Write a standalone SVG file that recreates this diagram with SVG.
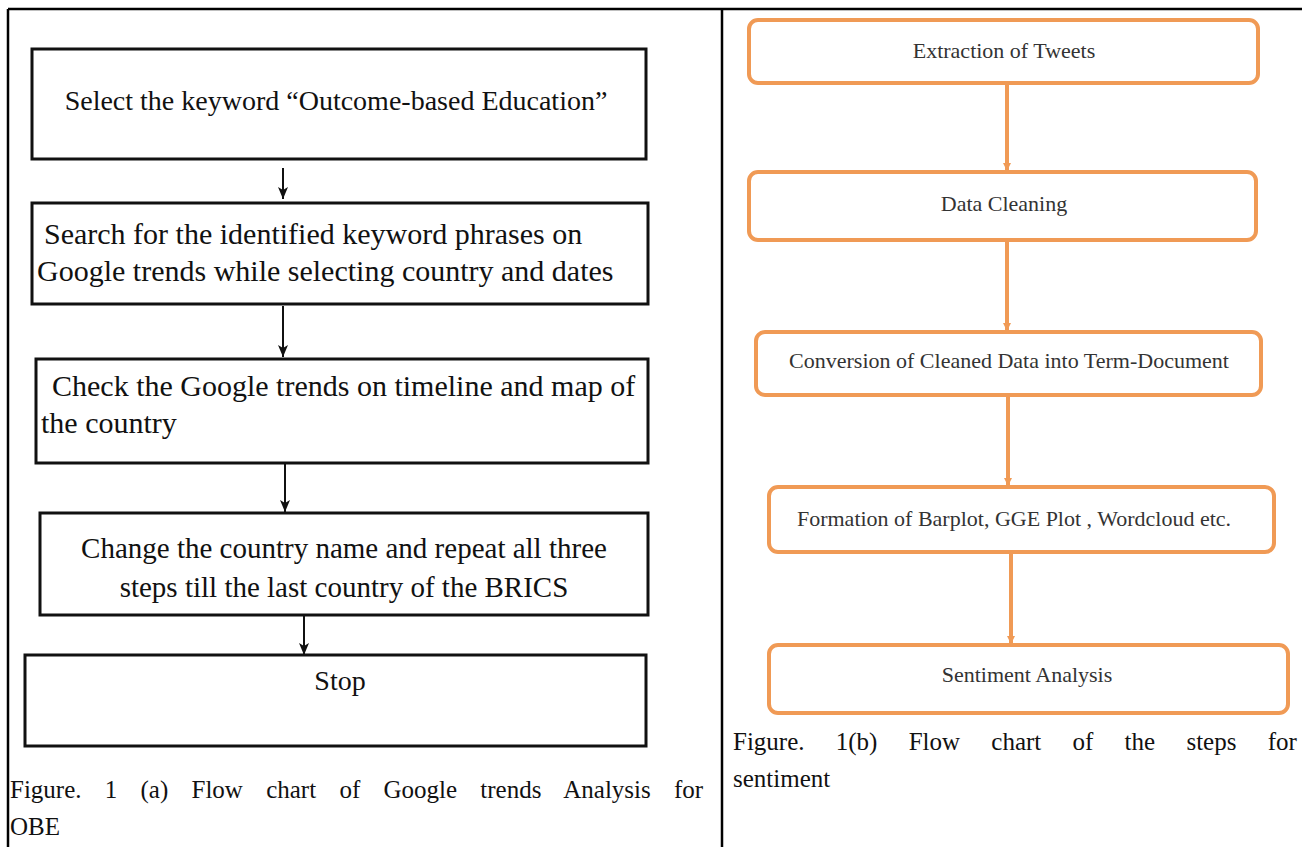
<svg xmlns="http://www.w3.org/2000/svg" width="1302" height="847" viewBox="0 0 1302 847">
<defs>
<style>
.frame{stroke:#000;stroke-width:2.5;fill:none}
.bbox{fill:#fff;stroke:#111;stroke-width:3}
.obox{fill:#fff;stroke:#f09a55;stroke-width:4}
.lt{font-family:"Liberation Serif","Times New Roman",serif;font-size:28px;fill:#111}
.rt{font-family:"Liberation Serif","Times New Roman",serif;font-size:22px;fill:#333}
.cap{font-family:"Liberation Serif","Times New Roman",serif;font-size:25px;fill:#111}
.barrow{stroke:#111;stroke-width:2;fill:none}
.oarrow{stroke:#f09a55;stroke-width:4;fill:none}
</style>
<marker id="bh" viewBox="0 0 12 10" refX="12" refY="5" markerWidth="12" markerHeight="10" orient="auto" markerUnits="userSpaceOnUse">
<path d="M0,0 L12,5 L0,10 L3,5 Z" fill="#111"/>
</marker>
<marker id="oh" viewBox="0 0 8 8" refX="8" refY="4" markerWidth="8" markerHeight="8" orient="auto" markerUnits="userSpaceOnUse">
<path d="M0,0 L8,4 L0,8 Z" fill="#f09a55"/>
</marker>
</defs>
<rect width="1302" height="847" fill="#fff"/>
<g id="frame">
<line class="frame" x1="8" y1="9" x2="1302" y2="9"/>
<line class="frame" x1="8" y1="9" x2="8" y2="847"/>
<line class="frame" x1="722" y1="9" x2="722" y2="847"/>
</g>
<g id="connectors">
<line class="barrow" x1="283" y1="168" x2="283" y2="199" marker-end="url(#bh)"/>
<line class="barrow" x1="283" y1="306" x2="283" y2="357" marker-end="url(#bh)"/>
<line class="barrow" x1="285" y1="463" x2="285" y2="512" marker-end="url(#bh)"/>
<line class="barrow" x1="304" y1="615" x2="304" y2="655" marker-end="url(#bh)"/>
<line class="oarrow" x1="1007" y1="84" x2="1007" y2="171" marker-end="url(#oh)"/>
<line class="oarrow" x1="1007" y1="240" x2="1007" y2="331" marker-end="url(#oh)"/>
<line class="oarrow" x1="1008" y1="396" x2="1008" y2="486" marker-end="url(#oh)"/>
<line class="oarrow" x1="1011" y1="553" x2="1011" y2="644" marker-end="url(#oh)"/>
</g>
<g id="a1">
<rect class="bbox" x="32" y="49" width="614" height="110"/>
<text class="lt" x="336" y="110" text-anchor="middle">Select the keyword “Outcome-based Education”</text>
</g>
<g id="a2">
<rect class="bbox" x="32" y="203" width="616" height="101"/>
<text class="lt" x="44" y="244" style="font-size:30px">Search for the identified keyword phrases on</text>
<text class="lt" x="37" y="281" style="font-size:30px">Google trends while selecting country and dates</text>
</g>
<g id="a3">
<rect class="bbox" x="36" y="359" width="612" height="104"/>
<text class="lt" x="52" y="396" style="font-size:30px">Check the Google trends on timeline and map of</text>
<text class="lt" x="41" y="433" style="font-size:30px">the country</text>
</g>
<g id="a4">
<rect class="bbox" x="40" y="513" width="608" height="102"/>
<text class="lt" x="344" y="558" text-anchor="middle" style="font-size:29px">Change the country name and repeat all three</text>
<text class="lt" x="344" y="597" text-anchor="middle" style="font-size:29px">steps till the last country of the BRICS</text>
</g>
<g id="a5">
<rect class="bbox" x="25" y="655" width="621" height="91"/>
<text class="lt" x="340" y="690" text-anchor="middle">Stop</text>
</g>
<g id="b1">
<rect class="obox" x="749" y="20" width="509" height="63" rx="9"/>
<text class="rt" x="1004" y="58" text-anchor="middle">Extraction of Tweets</text>
</g>
<g id="b2">
<rect class="obox" x="749" y="172" width="507" height="68" rx="9"/>
<text class="rt" x="1004" y="211" text-anchor="middle">Data Cleaning</text>
</g>
<g id="b3">
<rect class="obox" x="756" y="332" width="505" height="63" rx="9"/>
<text class="rt" x="1009" y="368" text-anchor="middle">Conversion of Cleaned Data into Term-Document</text>
</g>
<g id="b4">
<rect class="obox" x="769" y="487" width="505" height="65" rx="9"/>
<text class="rt" x="1014" y="526" text-anchor="middle">Formation of Barplot, GGE Plot , Wordcloud etc.</text>
</g>
<g id="b5">
<rect class="obox" x="769" y="645" width="519" height="68" rx="9"/>
<text class="rt" x="1027" y="682" text-anchor="middle">Sentiment Analysis</text>
</g>
<g id="captions">
<text class="cap" x="10" y="798" word-spacing="17">Figure. 1 (a) Flow chart of Google trends Analysis for</text>
<text class="cap" x="10" y="835">OBE</text>
<text class="cap" x="733" y="750" word-spacing="25">Figure. 1(b) Flow chart of the steps for</text>
<text class="cap" x="733" y="787">sentiment</text>
</g>
</svg>
